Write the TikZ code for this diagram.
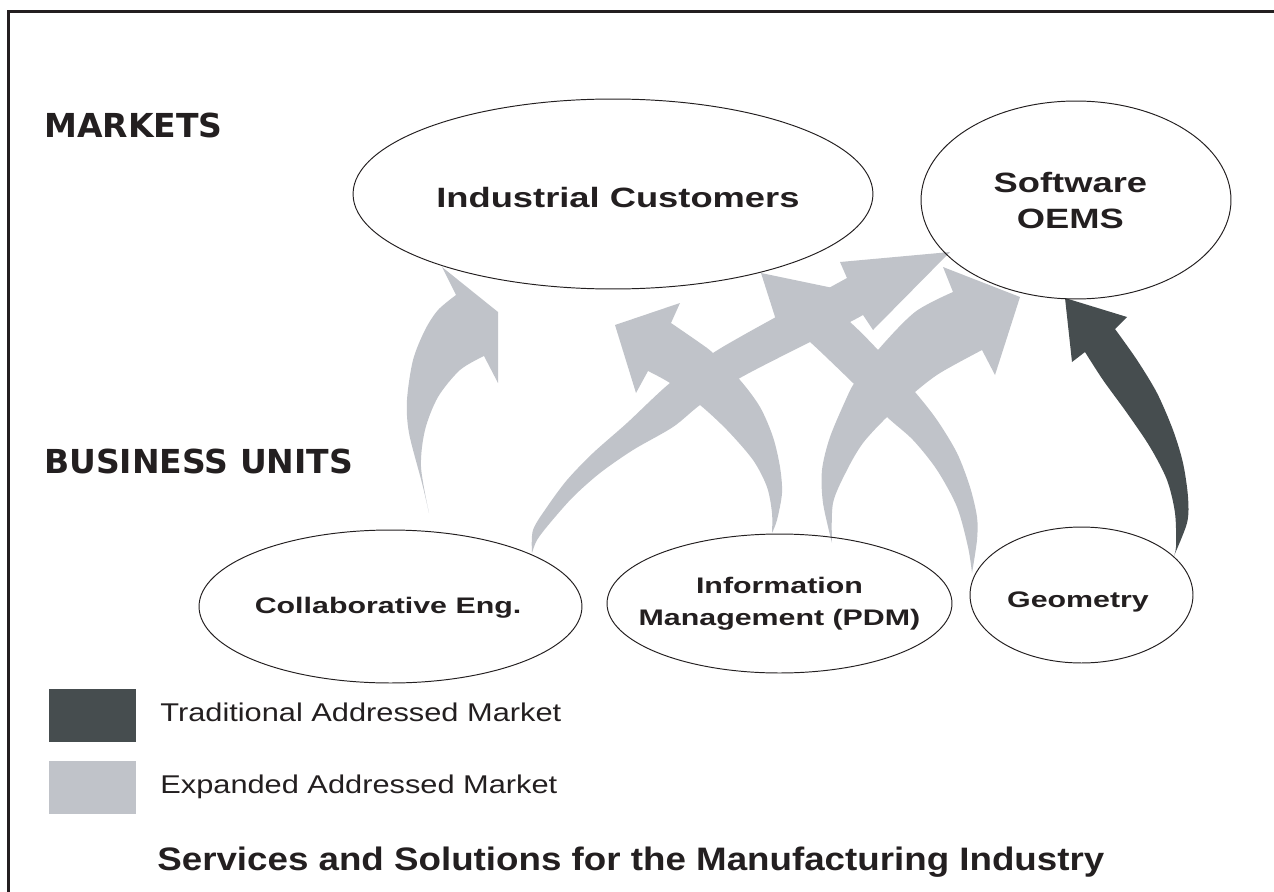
\documentclass[tikz,border=0pt]{standalone}
\usepackage{fontspec}
\setmainfont{Liberation Sans}
\newfontfamily\headfont{DejaVu Sans}
\newfontfamily\marketfont[FakeStretch=1.3]{Liberation Sans}
\newfontfamily\unitfont[FakeStretch=1.35]{Liberation Sans}
\newfontfamily\keyfont[FakeStretch=1.2]{Liberation Sans}
\newfontfamily\capfont[FakeStretch=1.13]{Liberation Sans}
\usetikzlibrary{shapes.geometric,positioning,backgrounds}
\definecolor{inkcol}{RGB}{35,31,32}
\definecolor{tradcol}{RGB}{70,77,79}
\definecolor{expcol}{RGB}{192,195,201}

\begin{document}
\begin{tikzpicture}[
  x=0.02cm, y=-0.02cm,
  bubble/.style={ellipse, draw=inkcol, line width=0.55pt, inner sep=0pt},
  market text/.style={align=center, text=inkcol, text depth=0pt, inner sep=0pt,
                      font=\marketfont\bfseries\fontsize{15.9}{20.5}\selectfont},
  unit text/.style={align=center, text=inkcol, text depth=0pt, inner sep=0pt,
                    font=\unitfont\bfseries\fontsize{12.8}{18.2}\selectfont},
  heading/.style={anchor=base west, text=inkcol,
                  font=\headfont\bfseries\fontsize{18.8}{22}\selectfont},
  key box/.style={minimum width=1.76cm, minimum height=1.06cm, inner sep=0pt},
  key text/.style={anchor=base west, inner sep=0pt, text=inkcol,
                   font=\keyfont\fontsize{14.6}{17}\selectfont},
  expanded/.style={fill=expcol},
  traditional/.style={fill=tradcol}
]
  \useasboundingbox (0,0) rectangle (1274,892);
  \clip (0,0) rectangle (1274,892);

  % frame (runs off the right and bottom)
  \draw[inkcol, line width=1.7pt] (1290,11.5) -| (8.5,905);

  % row headings
  \node[heading] (mkt) at (38,137) {MARKETS};
  \node[heading] (bu)  at (38,473) {BUSINESS UNITS};

  % markets
  \node[bubble, minimum width=10.4cm, minimum height=3.8cm,
        label={[market text, xshift=2.8pt, yshift=-2.2pt]center:Industrial Customers}]
       (ind) at (613,194) {};
  \node[bubble, minimum width=6.2cm, minimum height=3.96cm,
        label={[market text, xshift=-3.2pt]center:{Software\\OEMS}}]
       (oem) at (1076,200) {};

  % business units
  \node[bubble, minimum width=7.66cm, minimum height=3.06cm,
        label={[unit text, xshift=-1.4pt, yshift=0.8pt]center:Collaborative Eng.}]
       (collab) at (390.5,606.5) {};
  \node[bubble, minimum width=6.9cm, minimum height=2.78cm,
        label={[unit text, yshift=1.4pt]center:{Information\\Management (PDM)}}]
       (pdm) at (779.5,603.5) {};
  \node[bubble, minimum width=4.46cm, minimum height=2.72cm,
        label={[unit text, xshift=-2pt, yshift=-2.8pt]center:Geometry}]
       (geo) at (1081.5,595) {};

  % block arrows, kept under the ellipse outlines
  \begin{scope}[on background layer]
    % collab -> industrial
    \fill[expanded] plot[smooth] coordinates {(429,513) (422,483) (409,433)
        (407,400) (413,360) (425,330) (438,310) (456,295)}
      -- (442,267) -- (498,312) -- (498,383) -- (484,356)
      -- plot[smooth] coordinates {(484,356) (460,370) (438,397) (425,430)
        (421,467) (429,513)} -- cycle;
    % collab -> oems
    \fill[expanded] plot[smooth] coordinates {(532,553) (533,530) (547,507)
        (567,480) (593,453) (627,423) (670,383) (713,353) (740,337) (776,317)
        (847,278)}
      -- (840,262) -- (950,252) -- (873,330) -- (863,315)
      -- plot[smooth] coordinates {(863,315) (850,322) (810,342) (740,378)
        (700,405) (673,427) (633,450) (600,473) (573,497) (550,523) (537,540)
        (532,553)} -- cycle;
    % pdm -> industrial
    \fill[expanded] plot[smooth] coordinates {(772,533) (777,520) (782,493)
        (780,467) (773,437) (760,407) (740,380) (713,353) (700,343) (671,323)}
      -- (680,303) -- (615,325) -- (636,393) -- (648,371)
      -- plot[smooth] coordinates {(648,371) (670,383) (700,405) (727,430)
        (753,460) (767,487) (772,513) (772,533)} -- cycle;
    % geometry -> industrial
    \fill[expanded] plot[smooth] coordinates {(972,573) (977,540) (977,517)
        (970,487) (957,453) (937,420) (915,392) (878,350) (850,322) (822,300)}
      -- (833,288) -- (761,273) -- (784,345) -- (795,332)
      -- plot[smooth] coordinates {(795,332) (810,342) (853,383) (887,417)
        (913,440) (937,470) (957,507) (968,547) (972,573)} -- cycle;
    % pdm -> oems
    \fill[expanded] plot[smooth] coordinates {(832,543) (823,503) (822,470)
        (830,437) (847,397) (855,382) (878,350) (915,312) (953,292)}
      -- (943,267) -- (1020,297) -- (995,375) -- (982,350)
      -- plot[smooth] coordinates {(982,350) (940,373) (915,392) (887,417)
        (863,443) (847,470) (833,503) (832,543)} -- cycle;
    % geometry -> oems (traditional)
    \fill[traditional] plot[smooth] coordinates {(1173,558) (1176,547)
        (1175,513) (1167,480) (1150,447) (1127,413) (1103,380) (1085,352)}
      -- (1072,362) -- (1065,298) -- (1127,317) -- (1115,329)
      -- plot[smooth] coordinates {(1115,329) (1137,360) (1157,393) (1173,430)
        (1183,463) (1188,497) (1187,523) (1173,558)} -- cycle;
  \end{scope}

  % legend
  \foreach \col/\txt/\y/\base [count=\i] in
      {tradcol/Traditional Addressed Market/715/721,
       expcol/Expanded Addressed Market/787/793} {
    \node[key box, fill=\col] (key\i) at (92.5,\y) {};
    \node[key text] (keytxt\i) at (160,\base) {\txt};
  }

  % caption
  \node[anchor=base west, inner sep=0pt, text=inkcol,
        font=\capfont\bfseries\fontsize{18.5}{22}\selectfont]
       (caption) at (157,870) {Services and Solutions for the Manufacturing Industry};
\end{tikzpicture}
\end{document}
